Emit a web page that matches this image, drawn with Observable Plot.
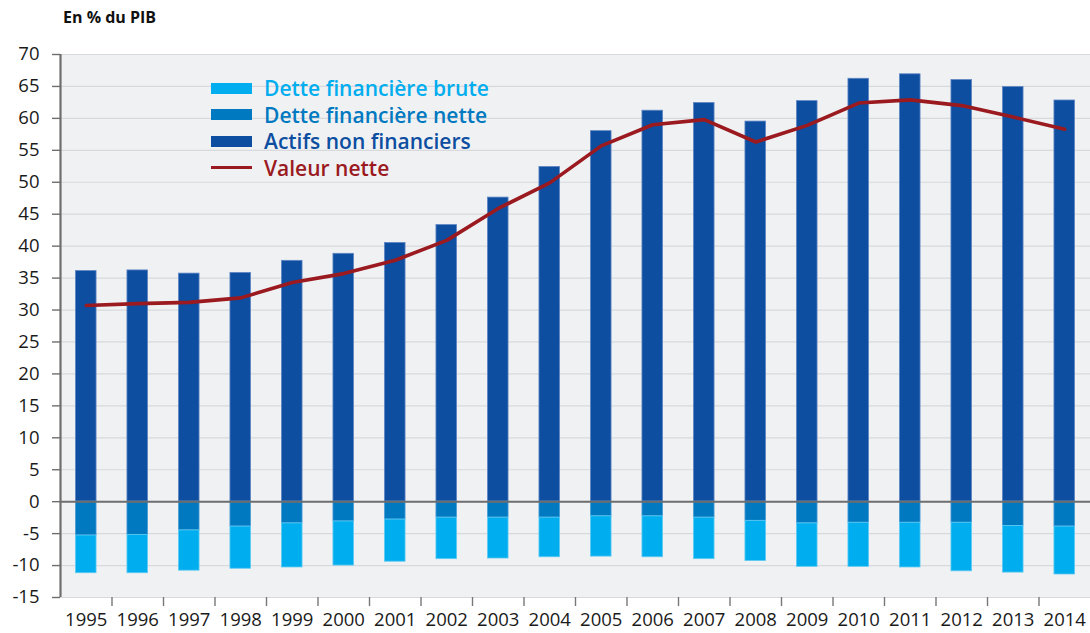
<!DOCTYPE html>
<html>
<head>
<meta charset="utf-8">
<script src="https://cdn.jsdelivr.net/npm/d3@7"></script>
<script src="https://cdn.jsdelivr.net/npm/@observablehq/plot@0.6"></script>
<style>
  html, body { margin: 0; padding: 0; background: #fff; }
  #wrap { position: relative; width: 1090px; height: 633px; font-family: "Open Sans", Lato, sans-serif; }
  #title { height: 40px; box-sizing: border-box; padding: 6px 0 0 63px; font-size: 16px; font-weight: bold; color: #111; }
  #legend { position: absolute; left: 211px; top: 75px; }
  .item { display: flex; align-items: center; height: 26.5px; font-size: 21px; font-weight: 600; }
  .sw { width: 41px; height: 11px; margin-right: 12px; }
  .ln { width: 41px; height: 3px; margin-right: 12px; }
</style>
</head>
<body>
<div id="wrap">
  <div id="title">En % du PIB</div>
  <div id="chart"></div>
  <div id="legend"></div>
</div>
<script>
const years = [1995, 1996, 1997, 1998, 1999, 2000, 2001, 2002, 2003, 2004, 2005, 2006, 2007, 2008, 2009, 2010, 2011, 2012, 2013, 2014];
const actifsNonFinanciers = [36.1, 36.2, 35.7, 35.8, 37.7, 38.8, 40.5, 43.3, 47.6, 52.4, 58.0, 61.2, 62.4, 59.5, 62.7, 66.2, 66.9, 66.0, 64.9, 62.8];
const detteFinanciereNette = [-5.3, -5.2, -4.5, -3.9, -3.4, -3.1, -2.8, -2.5, -2.5, -2.5, -2.3, -2.3, -2.5, -3.0, -3.4, -3.3, -3.3, -3.3, -3.8, -3.9];
const detteFinanciereBrute = [-11.2, -11.2, -10.8, -10.5, -10.3, -10.0, -9.4, -9.0, -8.9, -8.7, -8.6, -8.7, -9.0, -9.3, -10.2, -10.2, -10.3, -10.9, -11.1, -11.4];
const valeurNette = [30.7, 31.0, 31.2, 31.9, 34.3, 35.7, 37.8, 40.9, 45.9, 49.9, 55.7, 59.0, 59.8, 56.3, 58.9, 62.4, 62.9, 62.0, 60.2, 58.3];
const yTicks = [-15, -10, -5, 0, 5, 10, 15, 20, 25, 30, 35, 40, 45, 50, 55, 60, 65, 70];

const seriesNames = ["Dette financière brute", "Dette financière nette", "Actifs non financiers", "Valeur nette"];
const colors = { brute: "#00adee", nette: "#0079c0", actifs: "#0d4ea1", valeur: "#9a1a1f" };

const data = years.map((year, i) => ({
  year,
  actifs: actifsNonFinanciers[i],
  nette: detteFinanciereNette[i],
  brute: detteFinanciereBrute[i],
  valeur: valeurNette[i]
}));

const half = 0.2;
const fontFam = '"Open Sans", Lato, sans-serif';

const chart = Plot.plot({
  width: 1090,
  height: 593,
  marginTop: 14,
  marginBottom: 36,
  marginLeft: 60,
  marginRight: 0,
  style: { fontFamily: fontFam, fontSize: "18.5px", color: "#1a1a1a", background: "transparent" },
  x: { domain: [1994.5, 2014.5], label: null },
  y: { domain: [-15, 70], label: null },
  marks: [
    Plot.frame({ fill: "#f0f1f3", stroke: "#e2e3e5" }),
    Plot.ruleY(yTicks, { stroke: "#d8d9dc", strokeWidth: 1.2 }),
    Plot.rectY(data, { x1: d => d.year - half, x2: d => d.year + half, y1: 0, y2: "actifs", fill: colors.actifs, stroke: "#5f86c4", strokeWidth: 0.8 }),
    Plot.rectY(data, { x1: d => d.year - half, x2: d => d.year + half, y1: 0, y2: "nette", fill: colors.nette, stroke: "#4d9fd6", strokeWidth: 0.8 }),
    Plot.rectY(data, { x1: d => d.year - half, x2: d => d.year + half, y1: "nette", y2: "brute", fill: colors.brute, stroke: "#5fcaf3", strokeWidth: 0.8 }),
    Plot.ruleY([0], { stroke: "#6e6e6e", strokeWidth: 2 }),
    Plot.ruleX([1994.5], { stroke: "#6e6e6e", strokeWidth: 2.2 }),
    Plot.line(data, { x: "year", y: "valeur", stroke: colors.valeur, strokeWidth: 3.6, strokeLinejoin: "round", strokeLinecap: "round" }),
    Plot.axisY({ ticks: yTicks, label: null, tickSize: 8, tickPadding: 13, stroke: "#6e6e6e", strokeWidth: 1.4, tickFormat: d => String(d), fontSize: 18.5, fill: "#1a1a1a" }),
    Plot.axisX({ ticks: years, label: null, tickSize: 0, tickPadding: 15, tickFormat: d => String(d), fontSize: 18.5, fill: "#1a1a1a" }),
    Plot.axisX({ ticks: years.slice(1).map(y => y - 0.5), label: null, tickSize: 9, tickFormat: () => "", stroke: "#777", strokeWidth: 1.4 })
  ]
});
document.getElementById("chart").appendChild(chart);

const legend = document.getElementById("legend");
const legendColors = [colors.brute, colors.nette, colors.actifs, colors.valeur];
seriesNames.forEach((name, i) => {
  const item = document.createElement("div");
  item.className = "item";
  const sw = document.createElement("div");
  sw.className = i === 3 ? "ln" : "sw";
  sw.style.background = legendColors[i];
  const tx = document.createElement("span");
  tx.textContent = name;
  tx.style.color = legendColors[i];
  item.appendChild(sw);
  item.appendChild(tx);
  legend.appendChild(item);
});
</script>
</body>
</html>
